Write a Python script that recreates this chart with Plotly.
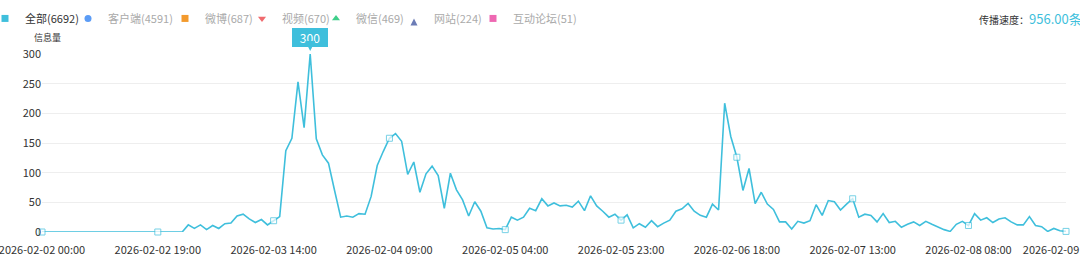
import pandas as pd
import plotly.graph_objects as go

# ---- data ----
start_time = "2026-02-02 00:00"
n_hours = 169
times = pd.date_range(start_time, periods=n_hours, freq="h")

values = [0] * 24 + [
    12, 6, 12, 4, 11, 6, 14, 15, 27, 30, 22, 16, 21, 12, 19, 26,
    137, 158, 253, 176, 300, 157, 130, 116, 70, 25, 27, 25, 31, 30,
    60, 112, 136, 158, 166, 153, 97, 118, 67, 98, 111, 95, 40, 99,
    71, 54, 27, 51, 35, 7, 5, 6, 4, 25, 20, 25, 40, 36, 56, 44,
    49, 44, 45, 42, 52, 36, 61, 44, 35, 25, 30, 20, 29, 7, 14, 8,
    19, 9, 15, 20, 35, 39, 48, 35, 28, 25, 47, 37, 217, 161, 126,
    70, 107, 48, 67, 47, 38, 17, 17, 5, 18, 15, 19, 46, 28, 53,
    51, 37, 47, 56, 25, 30, 28, 17, 31, 16, 18, 8, 13, 17, 11, 18,
    13, 8, 4, 1, 13, 18, 11, 31, 20, 24, 16, 22, 24, 17, 12, 12,
    26, 11, 9, 1, 6, 2, 1,
]

legend_names = ["全部", "客户端", "微博", "视频", "微信", "网站", "互动论坛"]
legend_counts = [6692, 4591, 687, 670, 469, 224, 51]
legend_colors = ["#3fbfdc", "#5b9cf6", "#f39a2d", "#f06a6e", "#3fcf8a", "#6c7cb6", "#ee68b2"]
legend_symbols = ["square", "circle", "square", "triangle-down", "triangle-up", "arrow-up", "square"]

speed_label = "传播速度："
speed_value = "956.00条/小时"
y_title = "信息量"
label_step = 19

# ---- styling / layout settings ----
line_color = "#3fbfdc"
font_family = "Noto Sans CJK SC, Noto Sans, sans-serif"
legend_x_px = [0, 68, 165, 242, 316, 394, 473]   # legend entry positions (px)
legend_indent = [-15, 0, 0, 0, 0, 0, 0]
W, H = 1080, 262

marker_sizes = [6 if (i % label_step == 0 or i == n_hours - 1) else 0 for i in range(n_hours)]

fig = go.Figure()
fig.add_trace(go.Scatter(
    x=times, y=values, mode="lines+markers",
    line=dict(color=line_color, width=1.6),
    marker=dict(symbol="square", size=marker_sizes, color="white",
                line=dict(color=line_color, width=1)),
    cliponaxis=False, showlegend=False, hoverinfo="x+y",
))

legend_layouts = {}
for k, (nm, cnt, col, sym) in enumerate(zip(legend_names, legend_counts, legend_colors, legend_symbols)):
    txt_col = "#333333" if k == 0 else "#aaaaaa"
    lg = "legend" if k == 0 else f"legend{k + 1}"
    fig.add_trace(go.Scatter(
        x=[None], y=[None], mode="markers",
        marker=dict(symbol=sym, size=7, color=col),
        name=f"<span style='color:{txt_col}'>{nm}({cnt})</span>",
        showlegend=True, legend=lg,
    ))
    legend_layouts[lg] = dict(
        orientation="h", xref="container", yref="container",
        x=legend_x_px[k] / W, y=0.985, xanchor="left", yanchor="top",
        itemwidth=30, indentation=legend_indent[k],
        font=dict(size=11, family=font_family),
        bgcolor="rgba(0,0,0,0)",
    )

peak_i = max(range(n_hours), key=lambda i: values[i])
fig.add_annotation(
    x=times[peak_i], y=values[peak_i], text=str(values[peak_i]),
    showarrow=True, arrowhead=2, arrowsize=1, arrowwidth=2, arrowcolor=line_color,
    ax=0, ay=-17, standoff=3, width=32, height=15,
    bgcolor=line_color, bordercolor=line_color, borderpad=1,
    font=dict(color="white", size=12, family=font_family),
)

fig.add_annotation(
    xref="paper", yref="paper", x=-0.0098, y=1.0955, xanchor="left", yanchor="middle",
    text=y_title, showarrow=False, font=dict(size=9, color="#333333", family=font_family),
)
fig.add_annotation(
    xref="paper", yref="paper", x=0.913, y=1.202, xanchor="left", yanchor="middle",
    text=f"<span style='font-size:10px;color:#333333'>{speed_label}</span>"
         f"<span style='font-size:13px;color:{line_color}'>{speed_value}</span>",
    showarrow=False, font=dict(family=font_family),
)

tickvals = list(times[::label_step]) + [times[-1]]
fig.update_xaxes(
    range=[times[0], times[-1]], tickvals=tickvals, tickformat="%Y-%m-%d %H:%M",
    showgrid=False, showline=False, zeroline=False, ticks="",
    ticklabeloverflow="allow", automargin=False, ticklabelstandoff=10,
    tickfont=dict(size=11, color="#333333", family=font_family),
)
fig.update_yaxes(
    range=[0, 300], tickvals=[0, 50, 100, 150, 200, 250, 300],
    showgrid=True, gridcolor="#eeeeee", gridwidth=1, zeroline=False, showline=False,
    automargin=False,
    tickfont=dict(size=11, color="#333333", family=font_family), ticks="",
)
fig.update_layout(
    width=W, height=H,
    margin=dict(l=42, r=14, t=54, b=30, autoexpand=False),
    paper_bgcolor="white", plot_bgcolor="white",
    font=dict(family=font_family, size=11, color="#333333"),
    hovermode="closest",
    **legend_layouts,
)

fig.write_html("out.html")
